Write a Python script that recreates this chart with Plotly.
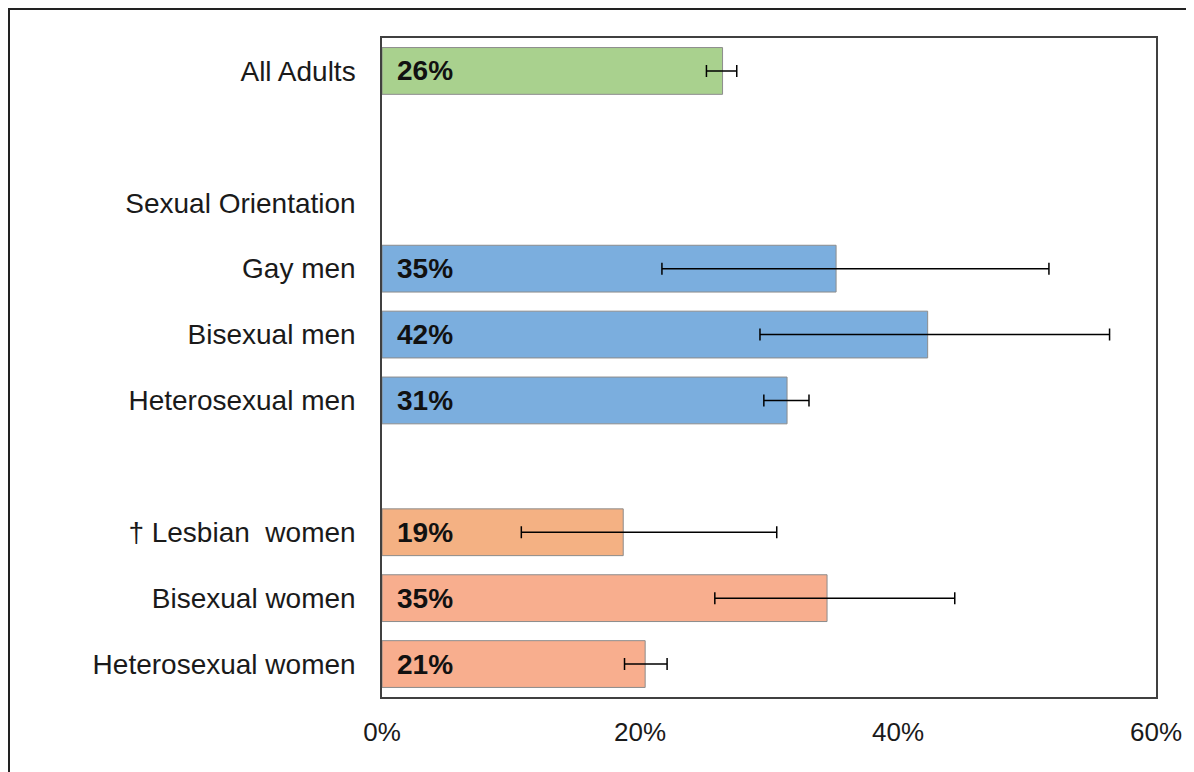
import plotly.graph_objects as go

# rows, top to bottom (blank strings are spacer rows)
categories = ["All Adults", " ", "Sexual Orientation", "Gay men", "Bisexual men",
              "Heterosexual men", "  ", "\u2020 Lesbian  women", "Bisexual women",
              "Heterosexual women"]
bar_cats = ["All Adults", "Gay men", "Bisexual men", "Heterosexual men",
            "\u2020 Lesbian  women", "Bisexual women", "Heterosexual women"]
values = [26.4, 35.2, 42.3, 31.4, 18.7, 34.5, 20.4]
labels = ["26%", "35%", "42%", "31%", "19%", "35%", "21%"]
ci_low = [25.15, 21.7, 29.3, 29.6, 10.8, 25.8, 18.8]
ci_high = [27.5, 51.7, 56.4, 33.1, 30.6, 44.4, 22.1]
colors = ["#A9D18E", "#7BAEDE", "#7BAEDE", "#7BAEDE", "#F4B183", "#F8AE8E", "#F8AE8E"]
x_ticks = [0, 20, 40, 60]
x_ticktext = ["0%", "20%", "40%", "60%"]

# page body has an 8px margin, so the figure is sized/placed to compensate
W, H = 1186, 764
ML, MR, MT, MB = 374, 38, 30, 75

fig = go.Figure()
fig.add_trace(go.Bar(
    y=bar_cats, x=values, orientation="h",
    marker=dict(color=colors, line=dict(color="#8C8C8C", width=1)),
    width=0.71,
    error_x=dict(type="data", symmetric=False,
                 array=[h - v for h, v in zip(ci_high, values)],
                 arrayminus=[v - l for l, v in zip(ci_low, values)],
                 color="#000000", thickness=1.5, width=6),
    hoverinfo="skip", showlegend=False,
))

# bold percentage labels at the start of each bar
for c, t in zip(bar_cats, labels):
    fig.add_annotation(x=0, y=c, text="<b>" + t + "</b>", showarrow=False,
                       xanchor="left", xshift=13,
                       font=dict(size=28, color="#111111", family="Liberation Sans, Arial"))

# outer frame (right/bottom edges fall outside the picture)
pw, ph = W - ML - MR, H - MT - MB
fig.add_shape(type="rect", xref="paper", yref="paper",
              x0=(1 - ML) / pw, x1=1.2, y0=-0.3, y1=1 + (MT - 1) / ph,
              line=dict(color="#222222", width=2), layer="below")

fig.update_layout(
    width=W, height=H,
    margin=dict(l=ML, r=MR, t=MT, b=MB),
    paper_bgcolor="white", plot_bgcolor="white",
    font=dict(family="Liberation Sans, Arial", color="#1A1A1A"),
    bargap=0.29,
)
fig.update_yaxes(
    type="category", categoryorder="array", categoryarray=categories,
    autorange="reversed", tickfont=dict(size=28), ticks="",
    ticklabelstandoff=19, showgrid=False, showline=True, mirror=True,
    linecolor="#404040", linewidth=1.5,
)
fig.update_xaxes(
    range=[0, 60], tickvals=x_ticks, ticktext=x_ticktext,
    tickfont=dict(size=26), ticks="", ticklabelstandoff=11,
    showgrid=False, zeroline=False, showline=True, mirror=True,
    linecolor="#404040", linewidth=1.5,
)

fig.write_html("out.html")
